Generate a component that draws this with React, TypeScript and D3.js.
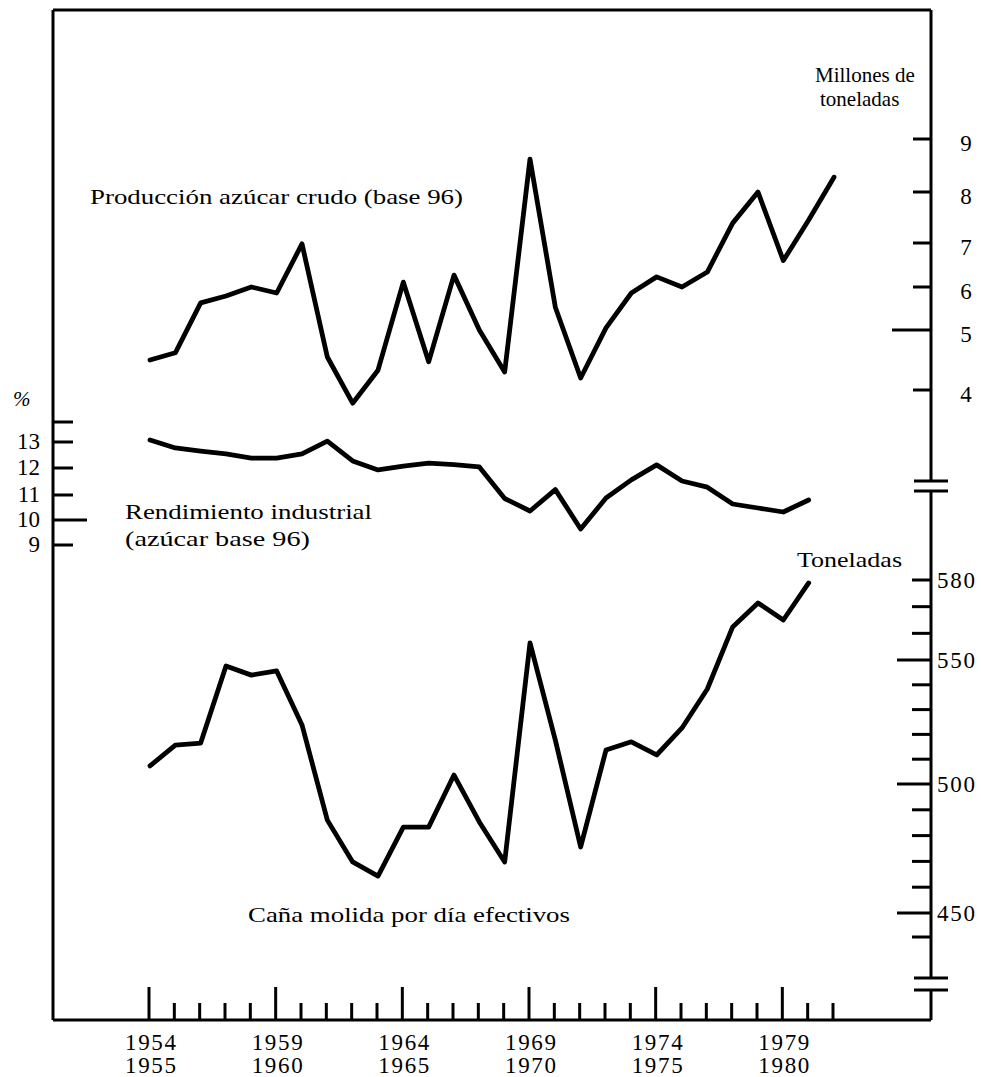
import React from 'react';
import * as d3 from 'd3';

// zafra seasons, by starting year (1954 = 1954/55)
const seasons = [1954, 1955, 1956, 1957, 1958, 1959, 1960, 1961, 1962, 1963, 1964, 1965, 1966, 1967,
    1968, 1969, 1970, 1971, 1972, 1973, 1974, 1975, 1976, 1977, 1978, 1979, 1980, 1981];

// millones de toneladas
const produccion = [4.5, 4.62, 5.63, 5.79, 6.0, 5.86, 6.98, 4.55, 3.78, 4.33, 6.11, 4.47, 6.27, 5.0,
    4.3, 8.62, 5.53, 4.2, 5.05, 5.86, 6.23, 6.0, 6.34, 7.39, 8.0, 6.6, 7.45, 8.28];

// %
const rendimiento = [13.1, 12.77, 12.65, 12.54, 12.38, 12.38, 12.54, 13.04, 12.27, 11.93, 12.07, 12.19,
    12.13, 12.04, 10.86, 10.36, 11.2, 9.64, 10.88, 11.56, 12.12, 11.52, 11.29, 10.64, 10.48, 10.32, 10.8];

// toneladas
const cana = [507.3, 515.7, 516.5, 547.6, 543.9, 545.6, 523.8, 486, 469.8, 464.3, 483.3, 483.3, 503.6,
    485.3, 469.8, 556.4, 517.7, 475.6, 513.7, 517, 511.7, 522.6, 538.3, 562.4, 571.4, 565, 578.9];

const labelYears = [1954, 1959, 1964, 1969, 1974, 1979];
const prodTicks = [4, 5, 6, 7, 8, 9];
const rendTicks = [9, 10, 11, 12, 13, 14];
const rendLabels = [9, 10, 11, 12, 13];
const canaTicks = [440, 450, 460, 470, 480, 490, 500, 510, 520, 530, 540, 550, 560, 570, 580];
const canaLabels = [450, 500, 550, 580];

const W = 981;
const H = 1077;
const FONT = '"Liberation Serif", "DejaVu Serif", serif';

export default function App() {
    const left = 53, right = 931, top = 10, bottom = 1020;

    const x = d3.scaleLinear().domain([1954, 1981]).range([150, 834]);
    // hand-drafted axes: spacing of the ticks is not regular, so piecewise scales
    const yProd = d3.scaleLinear().domain(prodTicks).range([390, 330, 287, 243, 192, 139]);
    const yRend = d3.scaleLinear().domain(rendTicks).range([545, 520, 495, 468, 442, 422]);
    const yCana = d3.scaleLinear().domain([440, 450, 500, 550, 580]).range([937, 913, 784, 660, 580]);

    const lineOf = (vals, y) => d3.line()
        .x((d, i) => x(seasons[i]))
        .y(d => y(d))(vals);

    const lineStyle = {
        fill: 'none', stroke: '#000', strokeWidth: 4.8, strokeLinejoin: 'round', strokeLinecap: 'round',
    };
    const axis = { stroke: '#000', strokeWidth: 3 };
    const txt = { fontFamily: FONT, fontSize: 22, fill: '#000' };
    const num = { fontFamily: FONT, fontSize: 23, fill: '#000' };

    const brk1 = [481, 491];
    const brk2 = [978, 990];

    return (
        <svg width={W} height={H} style={{ position: 'absolute', left: 0, top: 0, background: '#fff' }}>
            {/* frame */}
            <line x1={left} y1={top} x2={right} y2={top} {...axis} />
            <line x1={left} y1={top} x2={left} y2={bottom} {...axis} />
            <line x1={left} y1={bottom} x2={right} y2={bottom} {...axis} />
            <line x1={right} y1={top} x2={right} y2={brk1[0]} {...axis} />
            <line x1={right} y1={brk1[1]} x2={right} y2={brk2[0]} {...axis} />
            <line x1={right} y1={brk2[1]} x2={right} y2={bottom} {...axis} />
            {[...brk1, ...brk2].map((b, i) => (
                <line key={'b' + i} x1={914} x2={948} y1={b} y2={b} {...axis} />
            ))}

            {/* bottom axis */}
            {seasons.map((s, i) => {
                const major = labelYears.includes(s);
                return <line key={'xt' + i} x1={x(s) - 1} x2={x(s) - 1} y1={major ? 987 : 1003} y2={bottom} {...axis} />;
            })}
            {labelYears.map(s => (
                <g key={'xl' + s}>
                    <text x={x(s) - 25} y={1050} textLength={51} lengthAdjust="spacing" {...num}>{s}</text>
                    <text x={x(s) - 25} y={1073} textLength={51} lengthAdjust="spacing" {...num}>{s + 1}</text>
                </g>
            ))}

            {/* right axis, millones de toneladas */}
            {prodTicks.map(v => (
                <line key={'pt' + v} x1={v === 5 ? 892 : 913} x2={right} y1={yProd(v)} y2={yProd(v)} {...axis} />
            ))}
            {prodTicks.map(v => (
                <text key={'pl' + v} x={966} y={yProd(v) + 12} textAnchor="middle" {...num}>{v}</text>
            ))}
            <text x={815} y={82} {...txt} fontSize={21}>Millones de</text>
            <text x={820} y={106} {...txt} fontSize={21}>toneladas</text>

            {/* left axis, % */}
            {rendTicks.map(v => (
                <line key={'rt' + v} x1={left} x2={v === 10 ? 87 : 73} y1={yRend(v)} y2={yRend(v)} {...axis} />
            ))}
            {rendLabels.map(v => (
                <text key={'rl' + v} x={40} y={yRend(v) + 7} textAnchor="end" {...num}>{v}</text>
            ))}
            <text x={13} y={406} {...txt} fontStyle="italic" fontSize={21}>%</text>

            {/* right axis, toneladas */}
            {canaTicks.map(v => (
                <line key={'ct' + v} x1={v === 450 || v === 500 || v === 550 ? 897 : 912} x2={right}
                    y1={yCana(v)} y2={yCana(v)} {...axis} />
            ))}
            {canaLabels.map(v => (
                <text key={'cl' + v} x={937} y={yCana(v) + 8} textLength={38} lengthAdjust="spacing" {...num}>{v}</text>
            ))}
            <text x={797} y={567} textLength={105} lengthAdjust="spacingAndGlyphs" {...txt}>Toneladas</text>

            {/* series */}
            <path d={lineOf(produccion, yProd)} style={lineStyle} />
            <path d={lineOf(rendimiento, yRend)} style={lineStyle} />
            <path d={lineOf(cana, yCana)} style={lineStyle} />

            <text x={90} y={204} {...txt} textLength={373} lengthAdjust="spacingAndGlyphs">Producción azúcar crudo (base 96)</text>
            <text x={125} y={519} {...txt} textLength={247} lengthAdjust="spacingAndGlyphs">Rendimiento industrial</text>
            <text x={125} y={546} {...txt} textLength={185} lengthAdjust="spacingAndGlyphs">(azúcar base 96)</text>
            <text x={248} y={922} {...txt} textLength={322} lengthAdjust="spacingAndGlyphs">Caña molida por día efectivos</text>
        </svg>
    );
}
